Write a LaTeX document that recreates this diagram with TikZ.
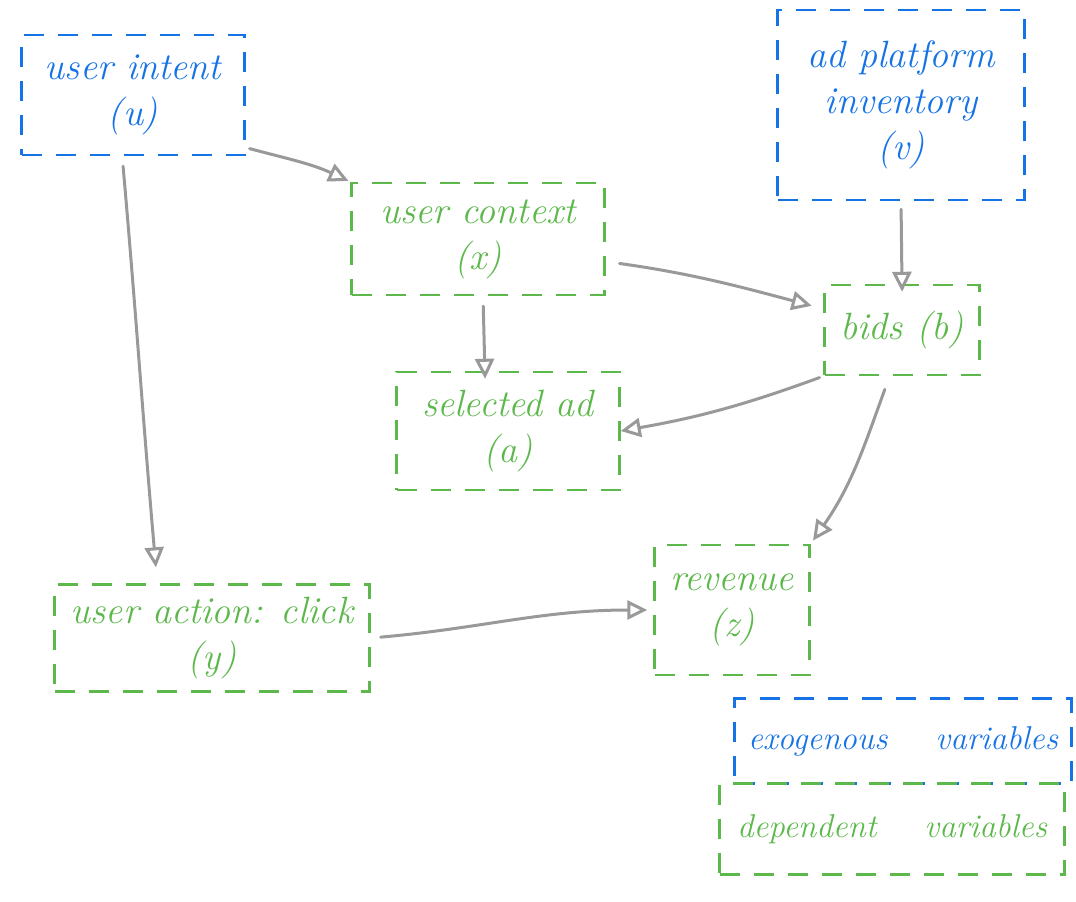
\documentclass[tikz,border=0pt]{standalone}
\usepackage{fontspec}
\usepackage{xcolor}
\usepackage{tikz}
\usetikzlibrary{arrows.meta}
\definecolor{exoBlue}{HTML}{1673E6}
\definecolor{depGreen}{HTML}{5DB84C}
\definecolor{arrGray}{HTML}{999999}
\tikzset{
  vbox/.style={dashed, dash pattern=on 20pt off 14pt, line width=2.4pt, align=center, inner sep=0pt,
    font=\fontsize{38}{46}\selectfont\itshape},
  exobox/.style={vbox, draw=exoBlue, text=exoBlue},
  depbox/.style={vbox, draw=depGreen, text=depGreen},
  legend/.style={font=\fontsize{33}{40}\selectfont\itshape},
  arr/.style={-{Triangle[open, length=20pt, width=19pt]}, draw=arrGray, line width=3pt, line cap=round},
}
\begin{document}
\begin{tikzpicture}[x=1pt, y=-1pt]
  \useasboundingbox (0,0) rectangle (1076,902);
  % ---- exogenous variables (blue)
  \node[exobox, minimum width=223pt, minimum height=120pt] (intent) at (133,95) {user intent\\(u)};
  \node[exobox, minimum width=247pt, minimum height=190pt] (inventory) at (901,105) {ad platform\\inventory\\(v)};
  % ---- dependent variables (green)
  \node[depbox, minimum width=253pt, minimum height=112pt] (context) at (478,239) {user context\\(x)};
  \node[depbox, minimum width=155pt, minimum height=90pt] (bids) at (902,330) {bids (b)};
  \node[depbox, minimum width=223pt, minimum height=118pt] (selected) at (508,431) {selected ad\\(a)};
  \node[depbox, minimum width=315pt, minimum height=107pt] (click) at (212,638) {user action: click\\(y)};
  \node[depbox, minimum width=155pt, minimum height=130pt] (revenue) at (732,610) {revenue\\(z)};
  % ---- legend
  \node[exobox, legend, minimum width=337pt, minimum height=85pt] (exo) at (903,741) {exogenous\hspace{48pt}variables};
  \node[depbox, legend, minimum width=345pt, minimum height=91pt] (dep) at (892,829) {dependent\hspace{48pt}variables};
  % ---- causal links
  \draw[arr, shorten <=10pt, shorten >=16pt] (intent.-100) to[out=-85, in=95] (click.135);
  \draw[arr, shorten <=4pt, shorten >=2pt] (intent.-25) to[out=-15, in=155] (context.north west);
  \draw[arr, shorten <=8pt, shorten >=-8pt] (inventory.south) -- (bids.north);
  \draw[arr, shorten <=14pt, shorten >=12pt] (context.-10) to[out=-8, in=165] (bids.165);
  \draw[arr, shorten <=10pt, shorten >=-8pt] (context.-85) -- (selected.111);
  \draw[arr, shorten <=4pt, shorten >=0pt] (bids.south west) to[out=200, in=10] (selected.east);
  \draw[arr, shorten <=14pt, shorten >=4pt] (bids.-105) to[out=-110, in=55] (revenue.north east);
  \draw[arr, shorten <=10pt, shorten >=6pt] (click.east) to[out=5, in=180] (revenue.west);
\end{tikzpicture}
\end{document}
